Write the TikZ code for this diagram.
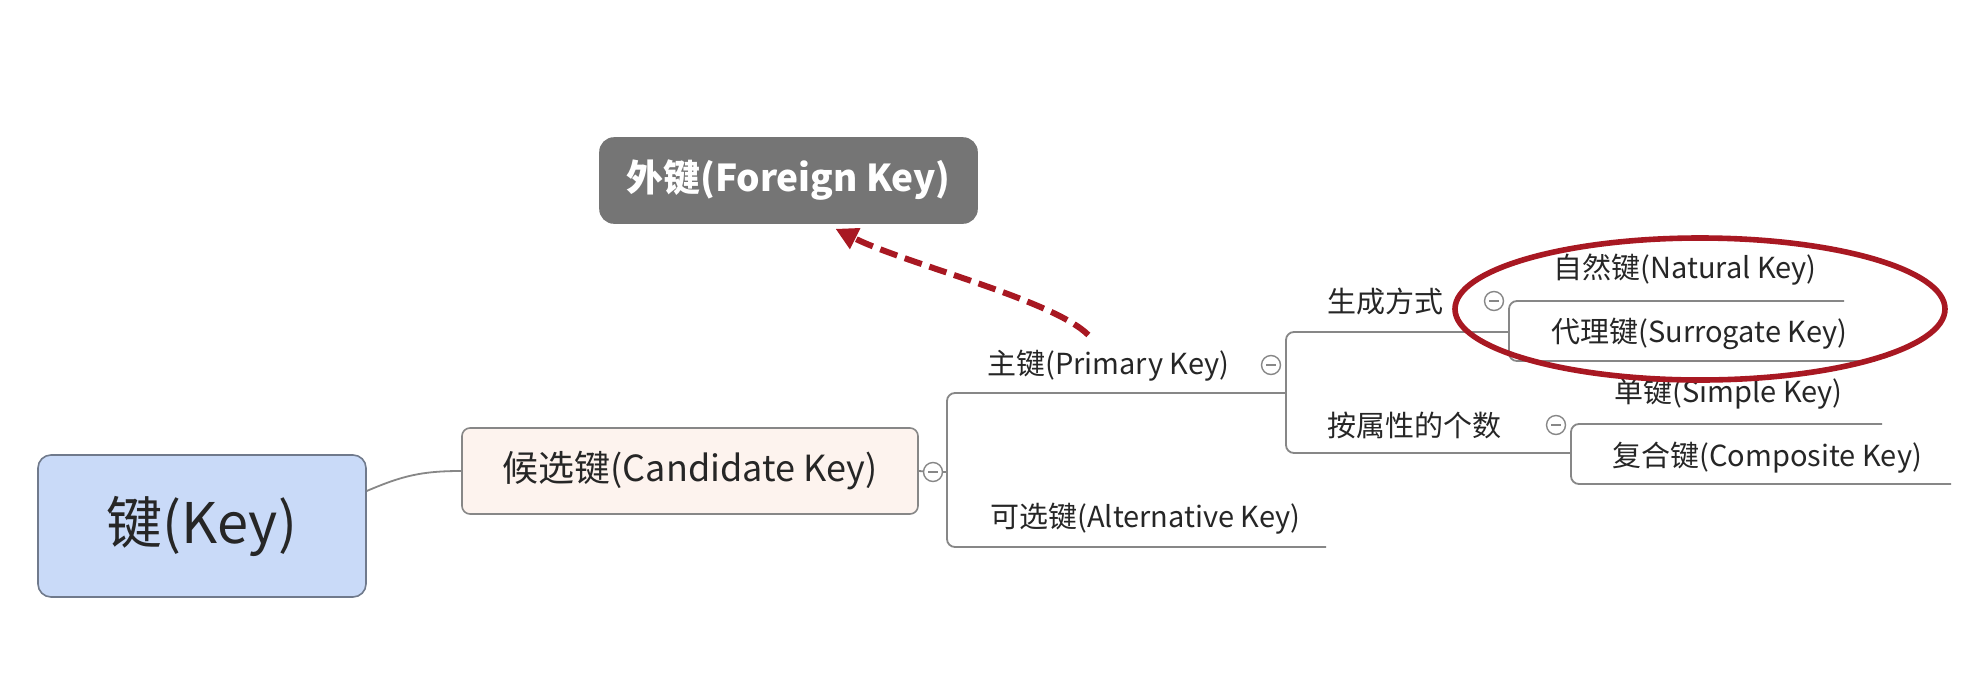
\documentclass[tikz,border=0pt]{standalone}
\usepackage{fontspec}
\setmainfont{Noto Sans CJK SC}
\usepackage{xcolor}
\usetikzlibrary{arrows.meta,calc}
\definecolor{keyFill}{RGB}{201,218,248}
\definecolor{keyLine}{RGB}{112,122,140}
\definecolor{candFill}{RGB}{253,243,238}
\definecolor{fkFill}{RGB}{117,117,117}
\definecolor{branchGray}{RGB}{135,135,135}
\definecolor{inkGray}{RGB}{38,38,38}
\definecolor{markRed}{RGB}{168,24,34}
\tikzset{
box/.style = {rectangle, rounded corners=#1, draw=branchGray, line width=0.8pt,
              inner sep=0pt, text=inkGray},
box/.default = 4pt % corner radius
}
\tikzset{
leaf/.style = {inner sep=0pt, anchor=west, text=inkGray,
               font=\fontsize{14.5}{17}\selectfont}
}
\tikzset{
fold/.style = {circle, draw=branchGray, fill=white, line width=0.7pt,
               minimum size=9.5pt, inner sep=0pt,
               path picture={\draw[branchGray, line width=0.7pt]
                 ([xshift=-2.5pt]path picture bounding box.center) --
                 ([xshift=2.5pt]path picture bounding box.center);}}
}
\tikzset{
branch/.style = {draw=branchGray, line width=0.9pt, rounded corners=4pt},
fkArrow/.style = {draw=markRed, line width=3pt, dash pattern=on 9pt off 4pt,
                  -{Triangle[length=11pt,width=11pt]}}
}

\begin{document}
\begin{tikzpicture}[x=0.5pt, y=-0.5pt]

    \fill[white] (0,0) rectangle (1967,681);
    \useasboundingbox (0,0) rectangle (1967,681);

    \node[box=6.5pt, fill=keyFill, draw=keyLine, minimum width=164pt, minimum height=71pt,
          font=\fontsize{28}{32}\selectfont] (keyBox) at (202,526) {键(Key)};
    \node[box, fill=candFill, minimum width=228pt, minimum height=43pt,
          font=\fontsize{18}{22}\selectfont] (candBox) at (690,471) {候选键(Candidate Key)};
    \node[box=7pt, fill=fkFill, draw=fkFill, minimum width=188.5pt, minimum height=42.5pt,
          text=white, font=\bfseries\fontsize{18.5}{22}\selectfont] (fkBox) at (788.5,180.5) {外键(Foreign Key)};

    \node[leaf] (pkText) at (987,366) {主键(Primary Key)};
    \node[leaf] (akText) at (990,519) {可选键(Alternative Key)};
    \node[leaf] (genText) at (1327,301) {生成方式};
    \node[leaf] (cntText) at (1327,425) {按属性的个数};
    \node[leaf] (natText) at (1553,270) {自然键(Natural Key)};
    \node[leaf] (surText) at (1551,334) {代理键(Surrogate Key)};
    \node[leaf] (simText) at (1614,394) {单键(Simple Key)};
    \node[leaf] (comText) at (1612,458) {复合键(Composite Key)};

    \node[fold] (candFold) at (933,472) {};
    \node[fold] (pkFold) at (1271,365) {};
    \node[fold] (genFold) at (1494,301) {};
    \node[fold] (cntFold) at (1556,425) {};

    \coordinate (candJoin) at (947,472);
    \coordinate (pkEnd) at (1286,393);
    \coordinate (akEnd) at (1326,547);
    \coordinate (genEnd) at (1509,332);
    \coordinate (cntEnd) at (1571,453);
    \coordinate (natEnd) at (1844,301);
    \coordinate (surEnd) at (1875,361);
    \coordinate (simEnd) at (1882,424);
    \coordinate (comEnd) at (1951,484);

\draw[branch] (keyBox.12) .. controls +(35,-15) and +(-40,0) .. (candBox.west);
\draw[branch] (candBox.east) -- (candFold);
\draw[branch] (candFold) -- (candJoin);
\draw[branch] (pkEnd) -| (candJoin) |- (akEnd);
\draw[branch] (genEnd) -| (pkEnd) |- (cntEnd);
\draw[branch] (natEnd) -| (genEnd) |- (surEnd);
\draw[branch] (simEnd) -| (cntEnd) |- (comEnd);

\draw[markRed, line width=2.8pt] (1700,309) ellipse [x radius=245, y radius=71];
\draw[fkArrow] ($(pkText.north)+(-20,-15)$) .. controls +(-35,-35) and +(70,35) .. ($(fkBox.south)+(47,5)$);
\end{tikzpicture}
\end{document}
